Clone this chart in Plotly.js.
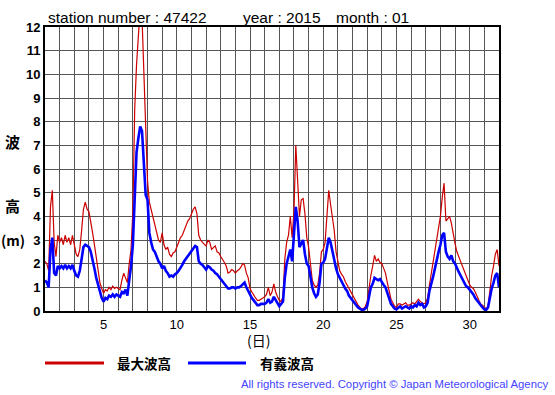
<!DOCTYPE html>
<html>
<head>
<meta charset="utf-8">
<script src="https://cdn.plot.ly/plotly-3.0.1.min.js"></script>
<style>html,body{margin:0;padding:0;background:#fff;}#chart{width:555px;height:395px;}</style>
</head>
<body>
<div id="chart"></div>
<script>
// Observation time axis: day of month, sampled every 3 hours from day 1.0
const startDay = 1;
const stepDays = 0.125;

// 最大波高 (maximum wave height, m), 8 samples per day
const maxWave = [
  2.1, 2.0, 1.7, 4.4, 5.1, 2.9, 2.3, 3.2,      // day 1
  2.9, 3.1, 2.8, 3.2, 2.9, 3.1, 2.8, 3.2,      // day 2
  2.8, 2.4, 2.3, 2.6, 3.4, 4.3, 4.6, 4.3,      // day 3
  4.2, 3.8, 3.3, 2.8, 2.2, 1.6, 1.2, 0.95,     // day 4
  0.75, 0.9, 0.85, 1.0, 0.9, 1.05, 0.95, 1.0,  // day 5
  0.95, 0.9, 1.3, 1.6, 1.4, 1.2, 2.0, 2.6,     // day 6
  4.2, 8.5, 10.4, 11.6, 12.8, 12.4, 10.2, 7.8, // day 7
  5.5, 4.6, 4.3, 4.0, 3.6, 3.4, 3.0, 2.9,      // day 8
  3.3, 2.8, 2.6, 2.7, 2.4, 2.3, 2.45, 2.5,     // day 9
  2.7, 2.9, 3.1, 3.2, 3.4, 3.6, 3.8, 3.9,      // day 10
  4.1, 4.3, 4.4, 4.1, 3.2, 3.0, 2.9, 2.8,      // day 11
  2.75, 3.0, 2.9, 2.6, 2.7, 2.75, 2.5, 2.45,   // day 12
  2.3, 2.2, 2.05, 1.9, 1.6, 1.65, 1.75, 1.7,   // day 13
  1.6, 1.7, 1.75, 1.85, 2.0, 1.95, 1.6, 1.4,   // day 14
  0.95, 0.8, 0.65, 0.55, 0.45, 0.45, 0.5, 0.55,// day 15
  0.6, 0.7, 1.0, 0.65, 0.8, 1.15, 0.8, 0.6,    // day 16
  0.45, 0.4, 0.6, 2.2, 2.9, 3.2, 4.0, 3.1,     // day 17
  4.2, 7.0, 5.3, 4.0, 4.7, 4.75, 4.1, 3.1,     // day 18
  2.7, 1.9, 1.3, 1.1, 1.0, 1.1, 1.6, 2.5,      // day 19
  2.6, 2.9, 3.9, 5.1, 4.5, 4.0, 3.4, 2.5,      // day 20
  2.0, 1.7, 1.55, 1.45, 1.25, 1.1, 1.0, 0.85,  // day 21
  0.7, 0.5, 0.35, 0.25, 0.15, 0.1, 0.1, 0.2,   // day 22
  0.4, 1.0, 1.5, 1.9, 2.35, 2.1, 2.2, 2.05,    // day 23
  2.0, 1.8, 1.6, 1.2, 0.8, 0.5, 0.35, 0.2,     // day 24
  0.15, 0.3, 0.3, 0.25, 0.3, 0.35, 0.25, 0.25, // day 25
  0.3, 0.35, 0.3, 0.4, 0.5, 0.4, 0.35, 0.3,    // day 26
  0.35, 0.55, 1.1, 1.6, 2.0, 2.6, 3.1, 3.6,    // day 27
  4.0, 4.8, 5.4, 3.8, 3.9, 4.0, 3.7, 3.2,      // day 28
  2.85, 2.5, 2.3, 2.1, 1.95, 1.75, 1.5, 1.3,   // day 29
  1.1, 1.0, 0.95, 0.8, 0.6, 0.45, 0.3, 0.25,   // day 30
  0.15, 0.1, 0.2, 1.0, 1.5, 1.9, 2.4, 2.6,     // day 31
  1.9                                          // end
];

// 有義波高 (significant wave height, m), 8 samples per day
const sigWave = [
  1.3, 1.2, 1.0, 2.6, 3.1, 1.6, 1.5, 1.9,      // day 1
  1.8, 1.9, 1.8, 1.95, 1.8, 1.9, 1.8, 1.95,    // day 2
  1.7, 1.5, 1.45, 1.7, 2.2, 2.7, 2.8, 2.75,    // day 3
  2.7, 2.5, 2.2, 1.8, 1.4, 1.1, 0.8, 0.55,     // day 4
  0.4, 0.55, 0.5, 0.65, 0.6, 0.7, 0.6, 0.7,    // day 5
  0.65, 0.6, 0.8, 0.75, 0.9, 0.65, 1.3, 1.9,   // day 6
  2.8, 5.2, 6.7, 7.3, 7.8, 7.6, 6.2, 4.9,      // day 7
  4.7, 3.3, 2.9, 2.6, 2.5, 2.3, 2.1, 2.0,      // day 8
  1.8, 1.9, 1.7, 1.6, 1.45, 1.5, 1.45, 1.55,   // day 9
  1.6, 1.7, 1.8, 1.95, 2.1, 2.2, 2.35, 2.4,    // day 10
  2.5, 2.6, 2.75, 2.7, 2.1, 2.0, 1.95, 1.85,   // day 11
  1.75, 1.9, 1.85, 1.75, 1.7, 1.6, 1.55, 1.45, // day 12
  1.35, 1.25, 1.1, 1.0, 0.95, 0.95, 1.0, 1.0,  // day 13
  0.95, 1.0, 1.0, 1.05, 1.15, 1.2, 1.0, 0.85,  // day 14
  0.65, 0.55, 0.45, 0.35, 0.25, 0.25, 0.3, 0.3,// day 15
  0.3, 0.35, 0.5, 0.35, 0.4, 0.6, 0.45, 0.3,   // day 16
  0.2, 0.3, 0.4, 1.4, 2.0, 2.3, 2.6, 2.1,      // day 17
  3.4, 4.4, 3.8, 2.7, 2.85, 3.0, 2.4, 2.0,     // day 18
  1.9, 1.4, 1.0, 0.75, 0.6, 0.7, 1.2, 2.0,     // day 19
  2.05, 2.2, 2.7, 3.1, 2.9, 2.5, 2.1, 1.8,     // day 20
  1.55, 1.4, 1.2, 1.1, 0.95, 0.85, 0.65, 0.55, // day 21
  0.45, 0.35, 0.2, 0.15, 0.1, 0.05, 0.05, 0.1, // day 22
  0.2, 0.6, 1.0, 1.15, 1.4, 1.35, 1.3, 1.35,   // day 23
  1.2, 1.1, 1.0, 0.75, 0.5, 0.3, 0.2, 0.1,     // day 24
  0.07, 0.15, 0.2, 0.1, 0.15, 0.2, 0.15, 0.1,  // day 25
  0.2, 0.15, 0.25, 0.2, 0.35, 0.25, 0.3, 0.15, // day 26
  0.2, 0.35, 0.85, 1.1, 1.45, 1.8, 2.2, 2.5,   // day 27
  2.8, 3.2, 3.3, 2.5, 2.3, 2.2, 2.35, 2.1,     // day 28
  2.0, 1.8, 1.65, 1.5, 1.35, 1.2, 1.05, 1.0,   // day 29
  0.9, 0.85, 0.7, 0.55, 0.45, 0.3, 0.2, 0.15,  // day 30
  0.07, 0.05, 0.15, 0.6, 0.95, 1.2, 1.5, 1.6,  // day 31
  1.0                                          // end
];

const xTickVals = [5, 10, 15, 20, 25, 30];
const xTickText = ['5', '10', '15', '20', '25', '30'];
const yTickVals = [0,1,2,3,4,5,6,7,8,9,10,11,12];
const seriesNames = ['最大波高', '有義波高'];

const times = maxWave.map((_, i) => startDay + i * stepDays);

const latin = 'Liberation Sans, Arial, sans-serif';
const cjk = 'Noto Sans CJK JP, sans-serif';

const traces = [
  { x: times, y: maxWave, type: 'scatter', mode: 'lines', name: seriesNames[0],
    line: { color: '#cc0000', width: 1.2 }, showlegend: false },
  { x: times, y: sigWave, type: 'scatter', mode: 'lines', name: seriesNames[1],
    line: { color: '#0000ff', width: 2.6 }, showlegend: false }
];

// plot area in pixels: x 45..499, y 27..311
const L = 45, R = 499, T = 27, B = 311;
const px = v => (v - L) / (R - L);
const py = v => (B - v) / (B - T);

const layout = {
  width: 555, height: 395,
  margin: { l: L, r: 555 - R, t: T, b: 395 - B, pad: 0 },
  paper_bgcolor: '#ffffff', plot_bgcolor: '#ffffff',
  showlegend: false,
  font: { family: latin, color: '#000' },
  xaxis: {
    range: [1, 32], tickmode: 'array', tickvals: xTickVals, ticktext: xTickText,
    showgrid: true, gridcolor: '#555', gridwidth: 1,
    minor: { tick0: 1, dtick: 1, showgrid: true, gridcolor: '#555', gridwidth: 1 },
    showline: true, mirror: true, linecolor: '#000', linewidth: 2,
    ticks: '', zeroline: false, fixedrange: true,
    tickfont: { family: latin, size: 13, color: '#000' }
  },
  yaxis: {
    range: [0, 12], tickmode: 'array', tickvals: yTickVals,
    showgrid: true, gridcolor: '#555', gridwidth: 1,
    showline: true, mirror: true, linecolor: '#000', linewidth: 2,
    ticks: '', zeroline: false, fixedrange: true,
    tickfont: { family: latin, size: 13, color: '#000', weight: 'bold' }
  },
  shapes: [
    { type: 'line', xref: 'paper', yref: 'paper', x0: px(45), x1: px(104), y0: py(363), y1: py(363),
      line: { color: '#cc0000', width: 3 } },
    { type: 'line', xref: 'paper', yref: 'paper', x0: px(188), x1: px(246), y0: py(363), y1: py(363),
      line: { color: '#0000ff', width: 3 } }
  ],
  annotations: [
    { text: 'station number : 47422', xref: 'paper', yref: 'paper', x: px(46), y: py(17),
      xanchor: 'left', yanchor: 'middle', showarrow: false, font: { family: latin, size: 15.5, color: '#000' } },
    { text: 'year : 2015', xref: 'paper', yref: 'paper', x: px(241), y: py(17),
      xanchor: 'left', yanchor: 'middle', showarrow: false, font: { family: latin, size: 15.5, color: '#000' } },
    { text: 'month : 01', xref: 'paper', yref: 'paper', x: px(334), y: py(17),
      xanchor: 'left', yanchor: 'middle', showarrow: false, font: { family: latin, size: 15.5, color: '#000' } },
    { text: '波', xref: 'paper', yref: 'paper', x: px(12.5), y: py(141.5),
      xanchor: 'center', yanchor: 'middle', showarrow: false, font: { family: cjk, size: 15, color: '#000', weight: 'bold' } },
    { text: '高', xref: 'paper', yref: 'paper', x: px(12.5), y: py(205),
      xanchor: 'center', yanchor: 'middle', showarrow: false, font: { family: cjk, size: 15, color: '#000', weight: 'bold' } },
    { text: '(m)', xref: 'paper', yref: 'paper', x: px(13), y: py(240),
      xanchor: 'center', yanchor: 'middle', showarrow: false, font: { family: cjk, size: 14, color: '#000', weight: 'bold' } },
    { text: '(日)', xref: 'paper', yref: 'paper', x: px(258), y: py(340),
      xanchor: 'center', yanchor: 'middle', showarrow: false, font: { family: cjk, size: 14, color: '#000' } },
    { text: seriesNames[0], xref: 'paper', yref: 'paper', x: px(115), y: py(363),
      xanchor: 'left', yanchor: 'middle', showarrow: false, font: { family: cjk, size: 13.5, color: '#000', weight: 'bold' } },
    { text: seriesNames[1], xref: 'paper', yref: 'paper', x: px(258), y: py(363),
      xanchor: 'left', yanchor: 'middle', showarrow: false, font: { family: cjk, size: 13.5, color: '#000', weight: 'bold' } },
    { text: 'All rights reserved. Copyright © Japan Meteorological Agency', xref: 'paper', yref: 'paper',
      x: px(551), y: py(384), xanchor: 'right', yanchor: 'middle', showarrow: false,
      font: { family: latin, size: 11.3, color: '#4444ff' } }
  ]
};

Plotly.newPlot('chart', traces, layout, { staticPlot: true, displayModeBar: false });
</script>
</body>
</html>
